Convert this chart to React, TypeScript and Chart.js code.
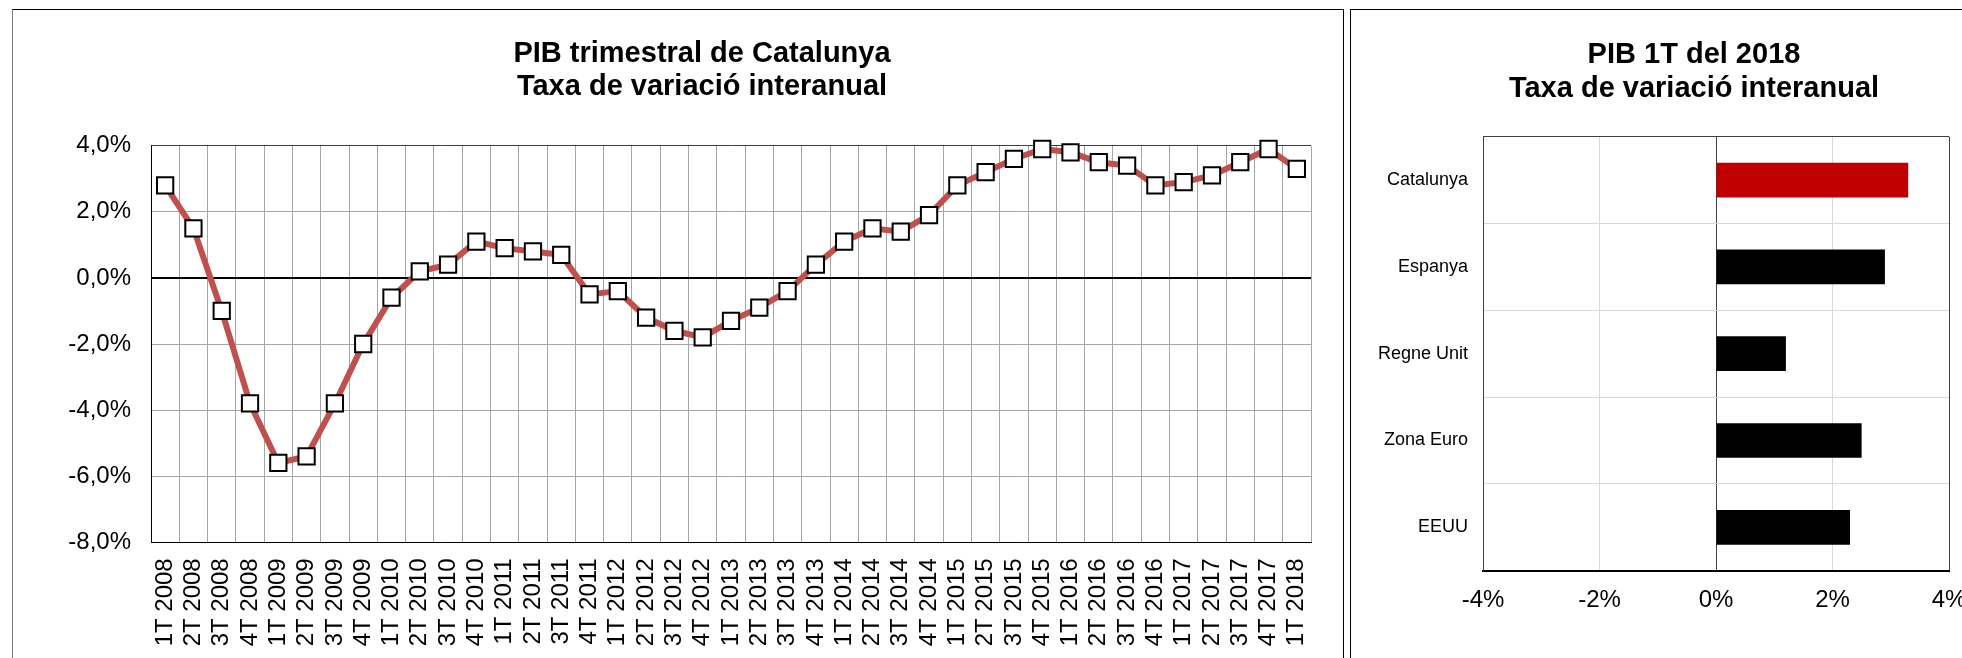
import React, { useEffect, useRef } from "react";
import { Chart, registerables } from "chart.js";

Chart.register(...registerables);
Chart.defaults.font.family = '"Liberation Sans", Arial, Helvetica, sans-serif';
Chart.defaults.color = "#000";

// ---- Data ----
const quarters = [
  "1T 2008", "2T 2008", "3T 2008", "4T 2008",
  "1T 2009", "2T 2009", "3T 2009", "4T 2009",
  "1T 2010", "2T 2010", "3T 2010", "4T 2010",
  "1T 2011", "2T 2011", "3T 2011", "4T 2011",
  "1T 2012", "2T 2012", "3T 2012", "4T 2012",
  "1T 2013", "2T 2013", "3T 2013", "4T 2013",
  "1T 2014", "2T 2014", "3T 2014", "4T 2014",
  "1T 2015", "2T 2015", "3T 2015", "4T 2015",
  "1T 2016", "2T 2016", "3T 2016", "4T 2016",
  "1T 2017", "2T 2017", "3T 2017", "4T 2017",
  "1T 2018",
];
const catalunyaGrowth = [
  2.8, 1.5, -1.0, -3.8,
  -5.6, -5.4, -3.8, -2.0,
  -0.6, 0.2, 0.4, 1.1,
  0.9, 0.8, 0.7, -0.5,
  -0.4, -1.2, -1.6, -1.8,
  -1.3, -0.9, -0.4, 0.4,
  1.1, 1.5, 1.4, 1.9,
  2.8, 3.2, 3.6, 3.9,
  3.8, 3.5, 3.4, 2.8,
  2.9, 3.1, 3.5, 3.9,
  3.3,
];
const leftTitle = ["PIB trimestral de Catalunya", "Taxa de variació interanual"];

const regions = ["Catalunya", "Espanya", "Regne Unit", "Zona Euro", "EEUU"];
const regionGrowth = [3.3, 2.9, 1.2, 2.5, 2.3];
const regionColors = ["#C00000", "#000000", "#000000", "#000000", "#000000"];
const rightTitle = ["PIB 1T del 2018", "Taxa de variació interanual"];

function titlePlugin(lines: string[], cx: number, baselines: number[]) {
  return {
    id: "customTitle",
    afterDraw(chart: any) {
      const ctx = chart.ctx;
      ctx.save();
      ctx.font = 'bold 29px "Liberation Sans", Arial, sans-serif';
      ctx.fillStyle = "#000";
      ctx.textAlign = "center";
      ctx.textBaseline = "alphabetic";
      lines.forEach((l, i) => ctx.fillText(l, cx, baselines[i]));
      ctx.restore();
    },
  };
}

function LineChart() {
  const ref = useRef<HTMLCanvasElement | null>(null);
  useEffect(() => {
    if (!ref.current) return;
    const chart = new Chart(ref.current, {
      type: "line",
      data: {
        labels: quarters,
        datasets: [
          {
            data: catalunyaGrowth,
            borderColor: "#C0504D",
            borderWidth: 6,
            tension: 0,
            pointStyle: "rect",
            pointRadius: 11.5,
            pointBackgroundColor: "#FFFFFF",
            pointBorderColor: "#000000",
            pointBorderWidth: 2,
            clip: false as any,
          },
        ],
      },
      options: {
        responsive: false,
        animation: false,
        layout: { padding: { top: 135.7, left: 0, right: 32, bottom: 0 } },
        plugins: { legend: { display: false }, tooltip: { enabled: false }, title: { display: false } },
        scales: {
          x: {
            type: "category",
            offset: true,
            grid: { offset: true, color: "#A6A6A6", lineWidth: 1, drawTicks: false },
            border: { display: true, color: "#000", width: 1 },
            ticks: {
              maxRotation: 90,
              minRotation: 90,
              autoSkip: false,
              padding: 16,
              font: { size: 24 },
              color: "#000",
            },
            afterFit: (s: any) => {
              s.height = 115.7;
              s.paddingLeft = 0;
              s.paddingRight = 0;
            },
          },
          y: {
            min: -8,
            max: 4,
            ticks: {
              stepSize: 2,
              padding: 20,
              font: { size: 24 },
              color: "#000",
              callback: (v: any) => Number(v).toFixed(1).replace(".", ",") + "%",
            },
            grid: {
              drawTicks: false,
              color: (c: any) =>
                c.tick && c.tick.value === 0 ? "#000" : c.tick && c.tick.value === 4 ? "#404040" : "#A6A6A6",
              lineWidth: (c: any) => (c.tick && c.tick.value === 0 ? 2 : 1),
            },
            border: { color: "#000", width: 1 },
            afterFit: (s: any) => {
              s.width = 138;
              s.paddingTop = 0;
              s.paddingBottom = 0;
            },
          },
        },
      },
      plugins: [titlePlugin(leftTitle, 689, [52, 85])],
    } as any);
    return () => chart.destroy();
  }, []);
  return (
    <canvas
      ref={ref}
      width={1330}
      height={648}
      style={{ position: "absolute", left: 13, top: 10, width: 1330, height: 648 }}
    />
  );
}

function BarChart() {
  const ref = useRef<HTMLCanvasElement | null>(null);
  useEffect(() => {
    if (!ref.current) return;
    const chart = new Chart(ref.current, {
      type: "bar",
      data: {
        labels: regions,
        datasets: [
          {
            data: regionGrowth,
            backgroundColor: regionColors,
            borderWidth: 0,
            barPercentage: 0.4,
            categoryPercentage: 1,
          },
        ],
      },
      options: {
        indexAxis: "y",
        responsive: false,
        animation: false,
        layout: { padding: { top: 126.7, left: 0, right: 13, bottom: 0 } },
        plugins: { legend: { display: false }, tooltip: { enabled: false }, title: { display: false } },
        scales: {
          x: {
            min: -4,
            max: 4,
            ticks: {
              stepSize: 2,
              padding: 15,
              font: { size: 24 },
              color: "#000",
              callback: (v: any) => v + "%",
            },
            grid: {
              drawTicks: false,
              color: (c: any) =>
                c.tick && (c.tick.value === 0 || Math.abs(c.tick.value) === 4) ? "#404040" : "#D9D9D9",
              lineWidth: 1,
            },
            border: { color: "#000", width: 2 },
            afterFit: (s: any) => {
              s.height = 87.3;
              s.paddingLeft = 0;
              s.paddingRight = 0;
            },
          },
          y: {
            offset: true,
            grid: {
              offset: true,
              drawTicks: false,
              color: (c: any) => (c.index === 0 ? "#404040" : "#D9D9D9"),
              lineWidth: 1,
            },
            border: { color: "#404040", width: 1 },
            ticks: { padding: 15, font: { size: 18 }, color: "#000" },
            afterFit: (s: any) => {
              s.width = 132;
              s.paddingTop = 0;
              s.paddingBottom = 0;
            },
          },
        },
      },
      plugins: [titlePlugin(rightTitle, 343, [53, 87])],
    } as any);
    return () => chart.destroy();
  }, []);
  return (
    <canvas
      ref={ref}
      width={611}
      height={648}
      style={{ position: "absolute", left: 1351, top: 10, width: 611, height: 648 }}
    />
  );
}

export default function App() {
  return (
    <div
      style={{
        position: "absolute",
        left: 0,
        top: 0,
        width: 1962,
        height: 658,
        overflow: "hidden",
        background: "#fff",
      }}
    >
      <div
        style={{
          position: "absolute",
          left: 12,
          top: 9,
          width: 1332,
          height: 700,
          boxSizing: "border-box",
          borderTop: "1px solid #000",
          borderLeft: "1px solid #808080",
          borderRight: "1px solid #000",
        }}
      />
      <div
        style={{
          position: "absolute",
          left: 1350,
          top: 9,
          width: 700,
          height: 700,
          boxSizing: "border-box",
          borderTop: "1px solid #000",
          borderLeft: "1px solid #000",
        }}
      />
      <LineChart />
      <BarChart />
    </div>
  );
}
